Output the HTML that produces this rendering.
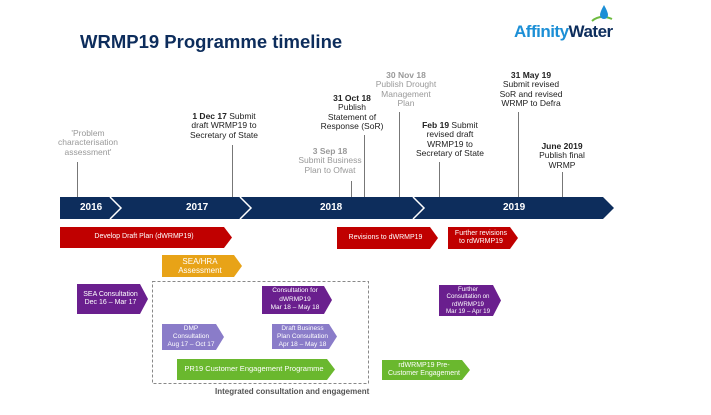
<!DOCTYPE html><html><head><style>
body{margin:0;width:711px;height:415px;background:#fff;position:relative;overflow:hidden;font-family:"Liberation Sans",sans-serif}
.a{position:absolute;display:flex;align-items:center;justify-content:center;text-align:center;color:#fff;font-size:7px;line-height:8.5px;clip-path:polygon(0 0,calc(100% - 8px) 0,100% 50%,calc(100% - 8px) 100%,0 100%);padding-right:4px;box-sizing:border-box;white-space:nowrap}
.t{position:absolute;text-align:center;font-size:8.5px;line-height:9.4px;color:#222;transform:translateX(-50%);white-space:nowrap}
.g{color:#999}
.v{position:absolute;width:1px;background:#777}
.y{position:absolute;top:197px;height:22px;color:#fff;font-weight:bold;font-size:10px;line-height:22px}
</style></head><body>
<div style="position:absolute;left:80px;top:31px;font-size:18.5px;font-weight:bold;color:#0d2d5c">WRMP19 Programme timeline</div>
<div style="position:absolute;left:514px;top:22px;font-size:17px;font-weight:bold;letter-spacing:-0.5px"><span style="color:#1c8fd6">Affinity</span><span style="color:#0d2d5c">Water</span></div>
<svg style="position:absolute;left:590px;top:4px" width="24" height="22"><path d="M2 17 Q10 10 22 15" stroke="#6dbb3f" stroke-width="2" fill="none"/><path d="M14 1 Q10 8 10 11 A4 4 0 0 0 18 11 Q18 8 14 1Z" fill="#1c8fd6"/></svg>
<svg style="position:absolute;left:0;top:0" width="711" height="415">
<polygon points="60,197 603,197 614,208 603,219 60,219" fill="#0d2d5c"/>
<polyline points="110,197 121,208 110,219" stroke="#fff" stroke-width="1.5" fill="none"/>
<polyline points="240,197 251,208 240,219" stroke="#fff" stroke-width="1.5" fill="none"/>
<polyline points="413,197 424,208 413,219" stroke="#fff" stroke-width="1.5" fill="none"/>
<rect x="152.5" y="281.5" width="216" height="102" fill="none" stroke="#888" stroke-dasharray="3,2"/>
</svg>
<div class="y" style="left:80px">2016</div><div class="y" style="left:186px">2017</div><div class="y" style="left:320px">2018</div><div class="y" style="left:503px">2019</div>
<div class="v" style="left:77px;top:162px;height:35px"></div>
<div class="v" style="left:232px;top:145px;height:52px"></div>
<div class="v" style="left:351px;top:181px;height:16px"></div>
<div class="v" style="left:364px;top:135px;height:62px"></div>
<div class="v" style="left:399px;top:112px;height:85px"></div>
<div class="v" style="left:439px;top:162px;height:35px"></div>
<div class="v" style="left:518px;top:112px;height:85px"></div>
<div class="v" style="left:562px;top:172px;height:25px"></div>
<div class="t g" style="left:88px;top:129px">'Problem<br>characterisation<br>assessment'</div>
<div class="t" style="left:224px;top:112px"><b>1 Dec 17</b> Submit<br>draft WRMP19 to<br>Secretary of State</div>
<div class="t g" style="left:330px;top:147px"><b>3 Sep 18</b><br>Submit Business<br>Plan to Ofwat</div>
<div class="t" style="left:352px;top:94px"><b>31 Oct 18</b><br>Publish<br>Statement of<br>Response (SoR)</div>
<div class="t g" style="left:406px;top:71px"><b>30 Nov 18</b><br>Publish Drought<br>Management<br>Plan</div>
<div class="t" style="left:450px;top:121px"><b>Feb 19</b> Submit<br>revised draft<br>WRMP19 to<br>Secretary of State</div>
<div class="t" style="left:531px;top:71px"><b>31 May 19</b><br>Submit revised<br>SoR and revised<br>WRMP to Defra</div>
<div class="t" style="left:562px;top:142px"><b>June 2019</b><br>Publish final<br>WRMP</div>
<div class="a" style="left:60px;top:227px;width:172px;height:21px;background:#c00000">Develop Draft Plan (dWRMP19)</div>
<div class="a" style="left:337px;top:227px;width:101px;height:22px;background:#c00000">Revisions to dWRMP19</div>
<div class="a" style="left:448px;top:227px;width:70px;height:22px;background:#c00000">Further revisions<br>to rdWRMP19</div>
<div class="a" style="left:162px;top:255px;width:80px;height:22px;background:#e8a317;font-size:8px;line-height:9.5px">SEA/HRA<br>Assessment</div>
<div class="a" style="left:77px;top:284px;width:71px;height:30px;background:#6a1f8e">SEA Consultation<br>Dec 16 –  Mar 17</div>
<div class="a" style="left:262px;top:286px;width:70px;height:28px;background:#6a1f8e;font-size:6.5px">Consultation for<br>dWRMP19<br>Mar 18 – May 18</div>
<div class="a" style="left:162px;top:324px;width:62px;height:26px;background:#8a7cc9;font-size:6.5px;line-height:8px">DMP<br>Consultation<br>Aug 17 – Oct 17</div>
<div class="a" style="left:272px;top:324px;width:65px;height:25px;background:#8a7cc9;font-size:6.5px;line-height:8px">Draft Business<br>Plan Consultation<br>Apr 18 – May 18</div>
<div class="a" style="left:177px;top:359px;width:158px;height:21px;background:#6ab82e;font-size:7.5px">PR19 Customer Engagement Programme</div>
<div class="a" style="left:439px;top:285px;width:62px;height:31px;background:#6a1f8e;font-size:6.2px;line-height:7.5px">Further<br>Consultation on<br>rdWRMP19<br>Mar 19 – Apr 19</div>
<div class="a" style="left:382px;top:360px;width:88px;height:20px;background:#6ab82e">rdWRMP19 Pre-<br>Customer Engagement</div>
<div style="position:absolute;left:215px;top:387px;font-size:8px;font-weight:bold;color:#555">Integrated consultation and engagement</div>
</body></html>
